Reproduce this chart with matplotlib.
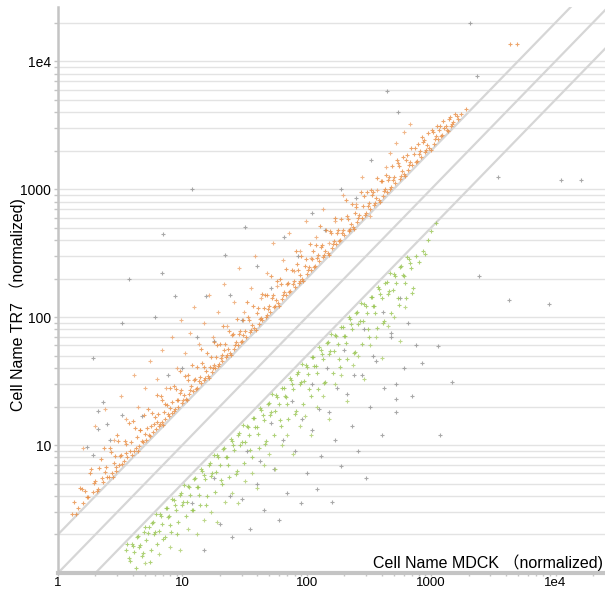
"""Scatter of normalized expression, MDCK vs TR7, with 2-fold guide lines."""

import matplotlib

matplotlib.use("Agg")
import matplotlib.pyplot as plt
from matplotlib.ticker import FixedLocator, LogLocator, NullFormatter

# parameters
FONT = ["Liberation Sans", "Noto Sans CJK JP", "DejaVu Sans"]
X_LABEL = "Cell Name MDCK （normalized)"
Y_LABEL = "Cell Name TR7 （normalized)"
TICKS = [1, 10, 100, 1000, 10000]
TICK_LABELS = ["1", "10", "100", "1000", "1e4"]
FOLD_LINES = [2, 1, 0.5]
X_LIMITS = (1, 25000)
Y_LIMITS = (1, 26500)

# points up in TR7 (dense band just above the 2-fold line)
up_band = [
    (1.3, 2.9), (1.35, 3.6), (1.45, 3.2), (1.5, 4.6), (1.6, 3.5), (1.65, 4.4), (1.75, 3.9),
    (1.8, 6.1), (1.9, 4.3), (2.0, 5.2), (2.1, 4.5), (2.2, 7.8), (2.3, 5.1), (2.4, 6.2),
    (2.5, 5.6), (2.6, 9.5), (2.7, 6.1), (2.8, 7.3), (2.9, 6.3), (3.0, 12.0), (3.1, 7.0),
    (3.2, 8.4), (3.4, 7.5), (3.5, 10.2), (3.6, 8.1), (3.8, 9.0), (3.9, 8.3), (4.0, 15.5),
    (4.2, 9.4), (4.3, 11.5), (4.5, 9.8), (4.6, 13.0), (4.8, 10.6), (5.0, 12.3), (5.1, 11.0),
    (5.3, 19.0), (5.4, 12.0), (5.6, 14.2), (5.8, 12.6), (6.0, 16.5), (6.1, 13.4), (6.3, 15.2),
    (6.5, 14.0), (6.7, 24.0), (6.9, 15.1), (7.1, 18.0), (7.3, 16.0), (7.5, 20.5), (7.8, 17.0),
    (8.0, 19.5), (8.2, 17.8), (8.5, 29.0), (8.7, 19.2), (9.0, 22.5), (9.3, 20.0), (9.6, 25.5),
    (10.0, 21.5), (10.3, 24.5), (10.7, 23.0), (11.0, 35.0), (11.4, 25.0), (11.8, 29.0),
    (12.2, 26.5), (12.6, 33.0), (13.0, 28.0), (13.5, 31.5), (14.0, 30.5), (14.5, 44.0),
    (15.0, 32.5), (15.5, 38.0), (16.0, 34.5), (16.6, 41.0), (17.2, 37.5), (17.8, 42.0),
    (18.4, 40.0), (19.0, 60.0), (19.7, 43.0), (20.4, 48.0), (21.0, 45.5), (21.8, 55.0),
    (22.6, 49.0), (23.4, 56.0), (24.2, 52.5), (25.0, 72.0), (26.0, 56.5), (27.0, 64.0),
    (28.0, 61.0), (29.0, 78.0), (30.0, 65.0), (31.0, 73.0), (32.5, 70.5), (34.0, 100.0),
    (35.0, 76.0), (36.5, 86.0), (38.0, 82.0), (39.5, 108.0), (41.0, 89.0), (42.5, 99.0),
    (44.0, 95.5), (46.0, 150.0), (47.5, 103.0), (49.0, 116.0), (51.0, 110.0), (53.0, 140.0),
    (55.0, 119.0), (57.0, 135.0), (59.0, 128.0), (61.0, 200.0), (63.5, 138.0), (66.0, 156.0),
    (68.5, 148.0), (71.0, 185.0), (74.0, 160.0), (77.0, 180.0), (80.0, 173.0), (83.0, 260.0),
    (86.0, 186.0), (89.0, 212.0), (92.0, 199.0), (96.0, 250.0), (100.0, 216.0), (104.0, 245.0),
    (108.0, 233.0), (112.0, 330.0), (116.0, 251.0), (121.0, 290.0), (126.0, 272.0),
    (131.0, 350.0), (136.0, 294.0), (141.0, 330.0), (147.0, 318.0), (153.0, 470.0),
    (159.0, 344.0), (165.0, 392.0), (172.0, 372.0), (179.0, 480.0), (186.0, 402.0),
    (193.0, 455.0), (201.0, 435.0), (209.0, 620.0), (217.0, 470.0), (226.0, 535.0),
    (235.0, 508.0), (245.0, 650.0), (255.0, 551.0), (265.0, 625.0), (276.0, 597.0),
    (287.0, 880.0), (298.0, 645.0), (310.0, 735.0), (323.0, 698.0), (336.0, 900.0),
    (349.0, 755.0), (363.0, 860.0), (378.0, 817.0), (393.0, 1150.0), (409.0, 884.0),
    (425.0, 1010.0), (442.0, 955.0), (460.0, 1250.0), (478.0, 1034.0), (497.0, 1180.0),
    (517.0, 1118.0), (538.0, 1600.0), (560.0, 1210.0), (582.0, 1380.0), (605.0, 1308.0),
    (630.0, 1700.0), (655.0, 1416.0), (681.0, 1620.0), (708.0, 1530.0), (737.0, 2100.0),
    (766.0, 1656.0), (797.0, 1890.0), (829.0, 1792.0), (862.0, 2350.0), (896.0, 1937.0),
    (932.0, 2210.0), (970.0, 2097.0), (1010.0, 2900.0), (1050.0, 2270.0), (1090.0, 2580.0),
    (1140.0, 2465.0), (1180.0, 3100.0), (1230.0, 2660.0), (1280.0, 3000.0), (1330.0, 2880.0),
    (1390.0, 3500.0), (1450.0, 3130.0), (1510.0, 3350.0), (1600.0, 3700.0), (1750.0, 3850.0),
    (1900.0, 4200.0), (4300.0, 13500.0), (4900.0, 13600.0),
]
# more of the same band, spread across its width
up_band_more = [
    (1.4, 2.87), (1.55, 4.5), (1.7, 3.91), (1.85, 6.48), (1.95, 5.07), (2.05, 4.41),
    (2.15, 6.67), (2.25, 5.51), (2.35, 9.4), (2.45, 6.74), (2.55, 5.61), (2.65, 8.75),
    (2.75, 5.64), (2.85, 8.27), (2.95, 6.79), (3.05, 10.7), (3.15, 8.19), (3.3, 7.1),
    (3.45, 10.7), (3.55, 8.7), (3.7, 14.8), (3.85, 10.6), (4.05, 8.91), (4.15, 13.7),
    (4.4, 9.02), (4.55, 13.2), (4.7, 10.8), (4.95, 17.3), (5.2, 13.5), (5.5, 11.8),
    (5.7, 17.7), (5.9, 14.5), (6.2, 24.8), (6.4, 17.6), (6.6, 14.5), (6.8, 22.4), (7.0, 14.4),
    (7.2, 20.9), (7.6, 17.5), (7.9, 27.7), (8.3, 21.6), (8.6, 18.5), (8.9, 27.6), (9.2, 22.5),
    (9.5, 38), (9.8, 27), (10.2, 22.4), (10.5, 34.7), (10.9, 22.3), (11.2, 32.5), (11.6, 26.7),
    (12.0, 42), (12.4, 32.2), (12.8, 27.5), (13.2, 40.9), (13.8, 33.8), (14.2, 56.8),
    (14.8, 40.7), (15.2, 33.4), (15.8, 52.1), (16.3, 33.4), (16.9, 49), (17.5, 40.3),
    (18.1, 63.4), (18.7, 48.6), (19.3, 41.5), (20.0, 62), (20.7, 50.7), (21.4, 85.6),
    (22.2, 61.1), (23.0, 50.6), (23.8, 78.5), (24.6, 50.4), (25.5, 74), (26.5, 61),
    (27.5, 96.3), (28.5, 74.1), (29.5, 63.4), (30.5, 94.6), (31.8, 77.9), (33.0, 132),
    (34.5, 94.9), (35.8, 78.8), (37.2, 123), (38.8, 79.5), (40.2, 117), (41.8, 96.1),
    (43.3, 152), (45.0, 117), (46.8, 101), (48.3, 150), (50.0, 123), (52.0, 208), (54.0, 149),
    (56.0, 123), (58.0, 191), (60.0, 123), (62.5, 181), (65.0, 150), (67.5, 236), (70.0, 182),
    (72.5, 156), (75.5, 234), (78.5, 192), (81.5, 326), (84.5, 232), (87.5, 193), (90.5, 299),
    (94.0, 193), (98.0, 284), (102, 235), (106, 371), (110, 286), (114, 245), (118.5, 367),
    (123.5, 303), (128.5, 514), (133.5, 367), (138.5, 305), (144, 475), (150, 308), (156, 452),
    (162, 373), (168.5, 590), (175.5, 456), (182.5, 392), (189.5, 587), (197, 483), (205, 820),
    (213, 586), (221.5, 487), (230.5, 761), (240, 492), (250, 725), (260, 598), (270.5, 947),
    (281.5, 732), (292.5, 629), (304, 942), (316.5, 775), (329.5, 989), (342.5, 942),
    (356, 783), (370.5, 1223), (385.5, 790), (401, 1163), (417, 959), (433.5, 1300),
    (451, 1173), (469, 1008), (487.5, 1511), (507, 1242), (527.5, 1688), (549, 1510),
    (571, 1256), (593.5, 1780), (617.5, 1266), (642.5, 1863), (668, 1536), (694.5, 2084),
    (722.5, 1879), (751.5, 1616), (781.5, 2266), (813, 1992), (845.5, 2537), (879, 2417),
    (914, 2011), (951, 2758), (990, 2030), (1030, 2781), (1070, 2461), (1115, 3122),
    (1160, 2900), (1205, 2591), (1255, 3389), (1305, 3132), (1360, 2856), (1420, 3692),
    (1480, 3256), (1550, 3875), (1650, 3548),
]
# points up in TR7, sparse part further from the diagonal
up_sparse = [
    (1.6, 9.5), (2.0, 14), (2.4, 19), (2.8, 11), (3.2, 24), (3.5, 16), (4.1, 35), (4.4, 20),
    (5.0, 28), (5.5, 45), (6.2, 33), (6.8, 55), (7.4, 28), (8.3, 70), (9.0, 40), (9.8, 95),
    (10.5, 52), (11.5, 75), (12.5, 120), (13.5, 62), (14.8, 90), (16.3, 150), (17.5, 70),
    (19.5, 110), (21.5, 180), (23.0, 85), (26.0, 130), (28.5, 240), (31.5, 110), (35.5, 170),
    (38.5, 300), (43.0, 140), (48.0, 220), (54.0, 380), (58.0, 175), (64.0, 280), (72.0, 450),
    (79.0, 230), (88.0, 330), (98.0, 560), (108.0, 290), (118.0, 420), (135.0, 700),
    (150.0, 380), (170.0, 560), (195.0, 900), (220.0, 480), (250.0, 760), (280.0, 1250),
    (320.0, 620), (370.0, 980), (430.0, 1500), (470.0, 1900), (520.0, 2300), (600.0, 2800),
    (680.0, 3200),
]
# points down in TR7 (band below the half-fold line)
down_band = [
    (3.5, 1.5), (3.7, 1.3), (3.9, 1.7), (4.1, 1.45), (4.3, 1.9), (4.5, 1.6), (4.7, 1.35),
    (4.9, 2.1), (5.1, 1.8), (5.4, 2.3), (5.6, 1.5), (5.8, 2.5), (6.0, 2.1), (6.3, 1.7),
    (6.6, 2.9), (6.9, 2.4), (7.2, 1.9), (7.5, 3.2), (7.8, 2.8), (8.1, 2.1), (8.5, 3.7),
    (8.9, 3.1), (9.3, 2.5), (9.7, 4.2), (10.1, 3.6), (10.6, 2.8), (11.1, 4.8), (11.6, 4.1),
    (12.1, 3.1), (12.7, 5.5), (13.3, 4.7), (13.9, 3.4), (14.5, 6.3), (15.2, 5.4), (15.9, 4.0),
    (16.6, 7.2), (17.4, 6.1), (18.2, 4.3), (19.0, 8.3), (19.9, 7.0), (20.8, 5.0), (21.8, 9.5),
    (22.8, 8.0), (23.9, 5.6), (25.0, 10.8), (26.2, 9.2), (27.4, 6.3), (28.7, 12.4),
    (30.0, 10.5), (31.4, 7.2), (32.9, 14.2), (34.4, 12.0), (36.0, 8.1), (37.7, 16.3),
    (39.5, 13.8), (41.3, 9.5), (43.2, 18.7), (45.2, 15.8), (47.3, 10.8), (49.5, 21.4),
    (51.8, 18.1), (54.2, 12.0), (56.7, 24.5), (59.4, 20.8), (62.2, 14.0), (65.1, 28.1),
    (68.1, 23.8), (71.3, 16.0), (74.6, 32.2), (78.1, 27.3), (81.7, 18.5), (85.5, 37.0),
    (89.5, 31.3), (93.7, 21.0), (98.0, 42.4), (103, 35.9), (108, 24.0), (113, 48.8),
    (118, 41.2), (123, 27.5), (129, 55.7), (135, 47.2), (141, 31.0), (148, 64.0), (155, 54.0),
    (162, 36.5), (169, 73.0), (177, 61.9), (185, 41.0), (194, 83.8), (203, 71.0), (212, 47.0),
    (222, 96.0), (232, 81.2), (243, 53.0), (254, 110), (266, 93), (278, 62), (291, 126),
    (305, 107), (319, 70), (334, 144), (349, 122), (365, 82), (382, 165), (400, 140),
    (419, 93), (438, 189), (459, 160), (480, 108), (502, 217), (526, 184), (550, 124),
    (576, 249), (603, 211), (631, 140), (660, 285), (690, 242), (720, 170), (750, 300),
    (800, 270), (860, 330), (900, 310), (950, 400), (1000, 470), (1100, 540),
]
down_band_more = [
    (3.6, 1.69), (3.8, 1.25), (4.0, 1.64), (4.2, 1.09), (4.4, 1.94), (4.6, 1.66), (4.8, 1.44),
    (5.0, 2.3), (5.25, 2.05), (5.5, 1.21), (5.7, 2.45), (5.9, 2.01), (6.15, 2.89),
    (6.45, 2.13), (6.75, 2.77), (7.05, 1.83), (7.35, 3.23), (7.65, 2.75), (7.95, 2.39),
    (8.3, 3.82), (8.7, 3.39), (9.1, 2.0), (9.5, 4.09), (9.9, 3.37), (10.4, 4.89), (10.9, 3.6),
    (11.4, 4.67), (11.9, 3.09), (12.4, 5.46), (13.0, 4.68), (13.6, 4.08), (14.2, 6.53),
    (14.9, 5.81), (15.6, 3.43), (16.3, 7.01), (17.0, 5.78), (17.8, 8.37), (18.6, 6.14),
    (19.5, 8.0), (20.4, 5.3), (21.3, 9.37), (22.3, 8.03), (23.3, 6.99), (24.4, 11.2),
    (25.6, 9.98), (26.8, 5.9), (28.0, 12.0), (29.3, 9.96), (30.7, 14.4), (32.1, 10.6),
    (33.6, 13.8), (35.2, 9.15), (36.8, 16.2), (38.6, 13.9), (40.4, 12.1), (42.2, 19.4),
    (44.2, 17.2), (46.2, 10.2), (48.4, 20.8), (50.6, 17.2), (53.0, 24.9), (55.4, 18.3),
    (58.0, 23.8), (60.8, 15.8), (63.6, 28.0), (66.6, 24.0), (69.7, 20.9), (72.9, 33.5),
    (76.3, 29.8), (79.9, 17.6), (83.6, 35.9), (87.5, 29.8), (91.6, 43.1), (95.9, 31.6),
    (100, 41), (105, 27.3), (110, 48.4), (115, 41.4), (121, 36.3), (126, 58), (132, 51.5),
    (138, 30.4), (145, 62.4), (151, 51.3), (158, 74.3), (166, 54.8), (173, 70.9), (181, 47.1),
    (190, 83.6), (198, 71.3), (208, 62.4), (217, 99.8), (227, 88.5), (238, 52.4), (249, 107),
    (260, 88.4), (272, 128), (285, 94), (298, 122), (312, 81.1), (327, 144), (342, 123),
    (357, 107), (374, 172), (391, 152), (409, 90), (429, 184), (448, 152), (469, 220),
    (491, 162), (514, 211), (538, 140), (563, 248), (589, 212), (616, 185), (645, 297),
    (675, 263), (705, 155),
]
down_sparse = [
    (5.0, 1.2), (6.5, 1.4), (8.0, 1.6), (9.5, 1.5), (11, 2.2), (13, 2.0), (15, 2.6), (17, 3.0),
    (19, 2.5), (22, 3.6), (25, 4.2), (28, 3.5), (32, 5.2), (36, 6.0), (40, 4.6), (45, 7.0),
    (50, 8.5), (56, 6.5), (63, 10), (70, 12), (78, 8.5), (88, 14), (97, 17), (108, 12),
    (120, 20), (135, 24), (150, 16), (168, 30), (188, 35), (210, 22), (235, 42), (260, 50),
    (290, 33), (325, 60), (360, 70), (400, 48), (450, 85), (500, 100), (560, 65), (620, 120),
]
# unchanged / filtered points, drawn in gray
other = [
    (12, 1000), (7, 444), (32, 510), (3.7, 200), (6.9, 223), (22, 303), (3.3, 90), (8.7, 146),
    (15.5, 146), (1.9, 48), (6, 100), (2050, 20000), (442, 5840), (2350, 7600), (545, 4000),
    (2.1, 18.6), (2.3, 21.7), (2.5, 14.6), (2.1, 13.4), (1.7, 9.6), (1.9, 8.3), (3.3, 17.2),
    (4200, 136), (8800, 127), (2440, 208), (1140, 59), (1470, 31), (1180, 12), (850, 44),
    (525, 30), (525, 23), (3480, 1240), (11000, 1180), (16000, 1180),
    (15, 1.5), (20, 2.4), (25, 1.9), (30, 3.8), (35, 2.2), (40, 5), (45, 3.1), (55, 6.5),
    (60, 2.6), (70, 4.2), (80, 9), (90, 3.5), (100, 6), (110, 13), (120, 4.5), (130, 8.2),
    (150, 18), (160, 3.6), (170, 11), (190, 6.8), (210, 25), (230, 14), (260, 9), (280, 35),
    (300, 5.5), (320, 20), (360, 45), (400, 12), (420, 28), (480, 70), (520, 18), (600, 40),
    (650, 90), (700, 24), (750, 60),
    (12, 3.5), (18, 5.5), (24, 4.0), (33, 9), (42, 7.5), (52, 15), (64, 11), (76, 22),
    (92, 16), (110, 30), (125, 19), (145, 40), (175, 28), (200, 55), (240, 35), (290, 80),
    (340, 50), (410, 110), (480, 75), (560, 140),
    (2.6, 11), (4.7, 17), (7.7, 35), (10, 40), (13, 70), (18, 65), (24, 150), (30, 95),
    (40, 250), (52, 170), (66, 420), (85, 300), (110, 650), (140, 480), (190, 1000),
    (250, 850), (330, 1700),
]

plt.rcParams["font.family"] = FONT
fig = plt.figure(figsize=(6.05, 5.95), dpi=100)
ax = fig.add_axes([58 / 605, 22 / 595, 547 / 605, 566 / 595])
ax.set_xscale("log")
ax.set_yscale("log")
ax.set_xlim(*X_LIMITS)
ax.set_ylim(*Y_LIMITS)

# horizontal grid on every decade sub-division
ax.yaxis.set_minor_locator(LogLocator(base=10, subs=range(2, 10)))
ax.xaxis.set_minor_locator(LogLocator(base=10, subs=range(2, 10)))
ax.grid(True, axis="y", which="both", color="#e3e3e3", linewidth=1.0, zorder=0)
ax.set_axisbelow(True)

# fold-change guide lines
for fold in FOLD_LINES:
    ax.axline((1, fold), (10, 10 * fold), color="#d6d6d6", linewidth=1.6, zorder=1)

groups = [
    (other, "#8c8c8c"),
    (up_sparse, "#eda066"),
    (up_band, "#e8893c"),
    (up_band_more, "#e8893c"),
    (down_sparse, "#a8cc66"),
    (down_band, "#95c34c"),
    (down_band_more, "#95c34c"),
]
for pts, color in groups:
    xs, ys = zip(*pts)
    ax.scatter(xs, ys, marker="+", s=8, linewidths=0.8, color=color, alpha=0.75, zorder=2)

# axes styling
for side in ["top", "right"]:
    ax.spines[side].set_visible(False)
ax.spines["left"].set_color("#c4c4c4")
ax.spines["left"].set_linewidth(1.8)
ax.spines["bottom"].set_color("#c4c4c4")
ax.spines["bottom"].set_linewidth(3)

ax.xaxis.set_major_locator(FixedLocator(TICKS))
ax.set_xticklabels(TICK_LABELS)
ax.yaxis.set_major_locator(FixedLocator(TICKS[1:]))
ax.set_yticklabels(TICK_LABELS[1:])
ax.xaxis.set_minor_formatter(NullFormatter())
ax.yaxis.set_minor_formatter(NullFormatter())
ax.tick_params(which="both", colors="#c4c4c4", labelcolor="black", length=3, width=1,
               labelsize=10)
ax.tick_params(axis="x", which="both", length=2, pad=1, labelsize=9.5)
ax.tick_params(axis="y", which="both", pad=2)

ax.text(0.997, 0.004, X_LABEL, transform=ax.transAxes, ha="right", va="bottom",
        fontsize=11.5)
fig.text(18 / 605, 1 - 305 / 595, Y_LABEL, rotation=90, ha="center", va="center",
         fontsize=11.5)

fig.savefig("out.png", dpi=100)
